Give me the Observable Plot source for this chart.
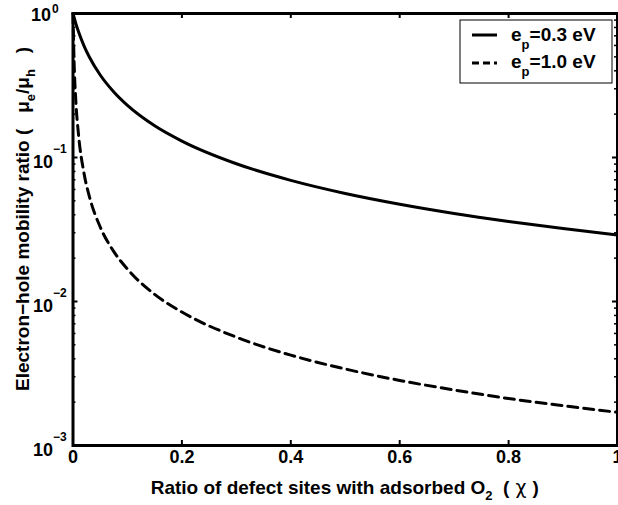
<!DOCTYPE html>
<html>
<head>
<meta charset="utf-8">
<script src="https://cdn.jsdelivr.net/npm/d3@7"></script>
<script src="https://cdn.jsdelivr.net/npm/@observablehq/plot@0.6"></script>
<style>
  html, body { margin: 0; padding: 0; background: #fff; }
  #chart { width: 618px; height: 505px; }
  svg { font-family: "Liberation Sans", Arial, Helvetica, sans-serif; font-weight: bold; }
</style>
</head>
<body>
<div id="chart"></div>
<script>
// Defect-site ratio χ (x) and electron–hole mobility ratio μe/μh (y)
const chi = [0, 0.002, 0.005, 0.01, 0.02, 0.03, 0.05, 0.075, 0.1, 0.15, 0.2, 0.3, 0.4, 0.5, 0.6, 0.7, 0.8, 0.9, 1.0];
const ratioEp03 = [1, 0.94, 0.857, 0.749, 0.599, 0.499, 0.374, 0.285, 0.230, 0.166, 0.130, 0.0905, 0.0694, 0.0563, 0.0474, 0.0409, 0.0360, 0.0321, 0.0290];
const ratioEp10 = [1, 0.46, 0.254, 0.146, 0.0785, 0.0537, 0.0329, 0.0222, 0.0168, 0.0112, 0.00845, 0.00565, 0.00424, 0.00340, 0.00283, 0.00243, 0.00212, 0.00189, 0.00170];
const seriesNames = ["e_p=0.3 eV", "e_p=1.0 eV"];
const legendValues = ["0.3", "1.0"];
const xTicks = [0, 0.2, 0.4, 0.6, 0.8, 1];
const xTickLabels = ["0", "0.2", "0.4", "0.6", "0.8", "1"];
const yTicks = [1e-3, 1e-2, 1e-1, 1];
const yTickExponents = ["\u22123", "\u22122", "\u22121", "0"];
const yMinorTicks = [2,3,4,5,6,7,8,9].flatMap(m => [1e-3, 1e-2, 1e-1].map(d => m * d));

const W = 618, H = 505;
const mL = 72.5, mR = 1, mT = 13, mB = 60;
const plotW = W - mL - mR, plotH = H - mT - mB;

const rows = [];
chi.forEach((c, i) => {
  rows.push({chi: c, ratio: ratioEp03[i], s: seriesNames[0]});
  rows.push({chi: c, ratio: ratioEp10[i], s: seriesNames[1]});
});

const tickFont = 18, supFont = 12, titleFont = 19, legendFont = 19;
const dash = "10,6";
const lowerTicks = yTicks.slice(0, 3), topTick = yTicks.slice(3);

const chart = Plot.plot({
  width: W, height: H,
  marginLeft: mL, marginRight: mR, marginTop: mT, marginBottom: mB,
  style: {fontFamily: '"Liberation Sans", Arial, sans-serif', fontWeight: "bold", background: "#fff"},
  x: {domain: [0, 1], axis: null},
  y: {type: "log", domain: [1e-3, 1], axis: null},
  marks: [
    Plot.line(rows.filter(d => d.s === seriesNames[0]), {x: "chi", y: "ratio", stroke: "#000", strokeWidth: 3, curve: "monotone-x"}),
    Plot.line(rows.filter(d => d.s === seriesNames[1]), {x: "chi", y: "ratio", stroke: "#000", strokeWidth: 3, strokeDasharray: dash, curve: "monotone-x"}),
    Plot.tickX(xTicks, {x: d => d, insetTop: plotH - 5, stroke: "#000", strokeWidth: 2}),
    Plot.tickX(xTicks, {x: d => d, insetBottom: plotH - 5, stroke: "#000", strokeWidth: 2}),
    Plot.tickY(yTicks, {y: d => d, insetRight: plotW - 5, stroke: "#000", strokeWidth: 2}),
    Plot.tickY(yTicks, {y: d => d, insetLeft: plotW - 5, stroke: "#000", strokeWidth: 2}),
    Plot.tickY(yMinorTicks, {y: d => d, insetRight: plotW - 3, stroke: "#000", strokeWidth: 1.5}),
    Plot.tickY(yMinorTicks, {y: d => d, insetLeft: plotW - 3, stroke: "#000", strokeWidth: 1.5}),
    Plot.frame({stroke: "#000", strokeWidth: 3}),
    Plot.text(xTicks, {x: d => d, frameAnchor: "bottom", dy: 17, text: (d, i) => xTickLabels[i], fontSize: tickFont, fontWeight: "bold", fill: "#000"}),
    Plot.text(lowerTicks, {y: d => d, frameAnchor: "left", dx: -20, dy: 5, textAnchor: "end", text: () => "10", fontSize: tickFont, fontWeight: "bold", fill: "#000"}),
    Plot.text(lowerTicks, {y: d => d, frameAnchor: "left", dx: -20, dy: -8, textAnchor: "start", text: (d, i) => yTickExponents[i], fontSize: supFont, fontWeight: "bold", fill: "#000"}),
    Plot.text(topTick, {y: d => d, frameAnchor: "left", dx: -22, dy: 2, textAnchor: "end", text: () => "10", fontSize: tickFont, fontWeight: "bold", fill: "#000"}),
    Plot.text(topTick, {y: d => d, frameAnchor: "left", dx: -21, dy: -4, textAnchor: "start", text: () => yTickExponents[3], fontSize: supFont, fontWeight: "bold", fill: "#000"})
  ]
});

const svg = d3.select(chart);
svg.attr("overflow", "visible");
const nb = "\u00A0";

// x-axis title
const xt = svg.append("text")
  .attr("x", mL + plotW / 2).attr("y", H - 11)
  .attr("text-anchor", "middle").attr("font-size", titleFont).attr("font-weight", "bold").attr("fill", "#000");
xt.append("tspan").text("Ratio of defect sites with adsorbed O");
xt.append("tspan").attr("dy", 6).attr("font-size", 13).text("2");
xt.append("tspan").attr("dy", -6).text(nb + nb + "(");
xt.append("tspan").attr("font-weight", "normal").attr("font-family", "DejaVu Sans, sans-serif").text(nb + "\u03C7" + nb);
xt.append("tspan").text(")");

// y-axis title
const yt = svg.append("text")
  .attr("transform", `translate(29,219) rotate(-90)`)
  .attr("text-anchor", "middle").attr("font-size", titleFont).attr("font-weight", "bold").attr("fill", "#000");
yt.append("tspan").text("Electron\u2212hole mobility ratio (" + nb + nb + nb + "\u03BC");
yt.append("tspan").attr("dy", 6).attr("font-size", 13).text("e");
yt.append("tspan").attr("dy", -6).text("/\u03BC");
yt.append("tspan").attr("dy", 6).attr("font-size", 13).text("h");
yt.append("tspan").attr("dy", -6).text(nb + nb + nb + ")");

// legend
const lg = svg.append("g");
lg.append("rect").attr("x", 460).attr("y", 20).attr("width", 152).attr("height", 63)
  .attr("fill", "#fff").attr("stroke", "#000").attr("stroke-width", 1);
[[35, 41], [63, 68]].forEach(([ly, by], i) => {
  lg.append("line").attr("x1", 472).attr("x2", 497).attr("y1", ly).attr("y2", ly)
    .attr("stroke", "#000").attr("stroke-width", 3)
    .attr("stroke-dasharray", i === 0 ? null : "7,4");
  const t = lg.append("text").attr("x", 511).attr("y", by).attr("text-anchor", "start")
    .attr("font-size", legendFont).attr("font-weight", "bold").attr("fill", "#000");
  t.append("tspan").text("e");
  t.append("tspan").attr("dy", 8).attr("font-size", 13).text("p");
  t.append("tspan").attr("dy", -8).text("=" + legendValues[i] + nb + "eV");
});

document.getElementById("chart").appendChild(chart);
</script>
</body>
</html>
